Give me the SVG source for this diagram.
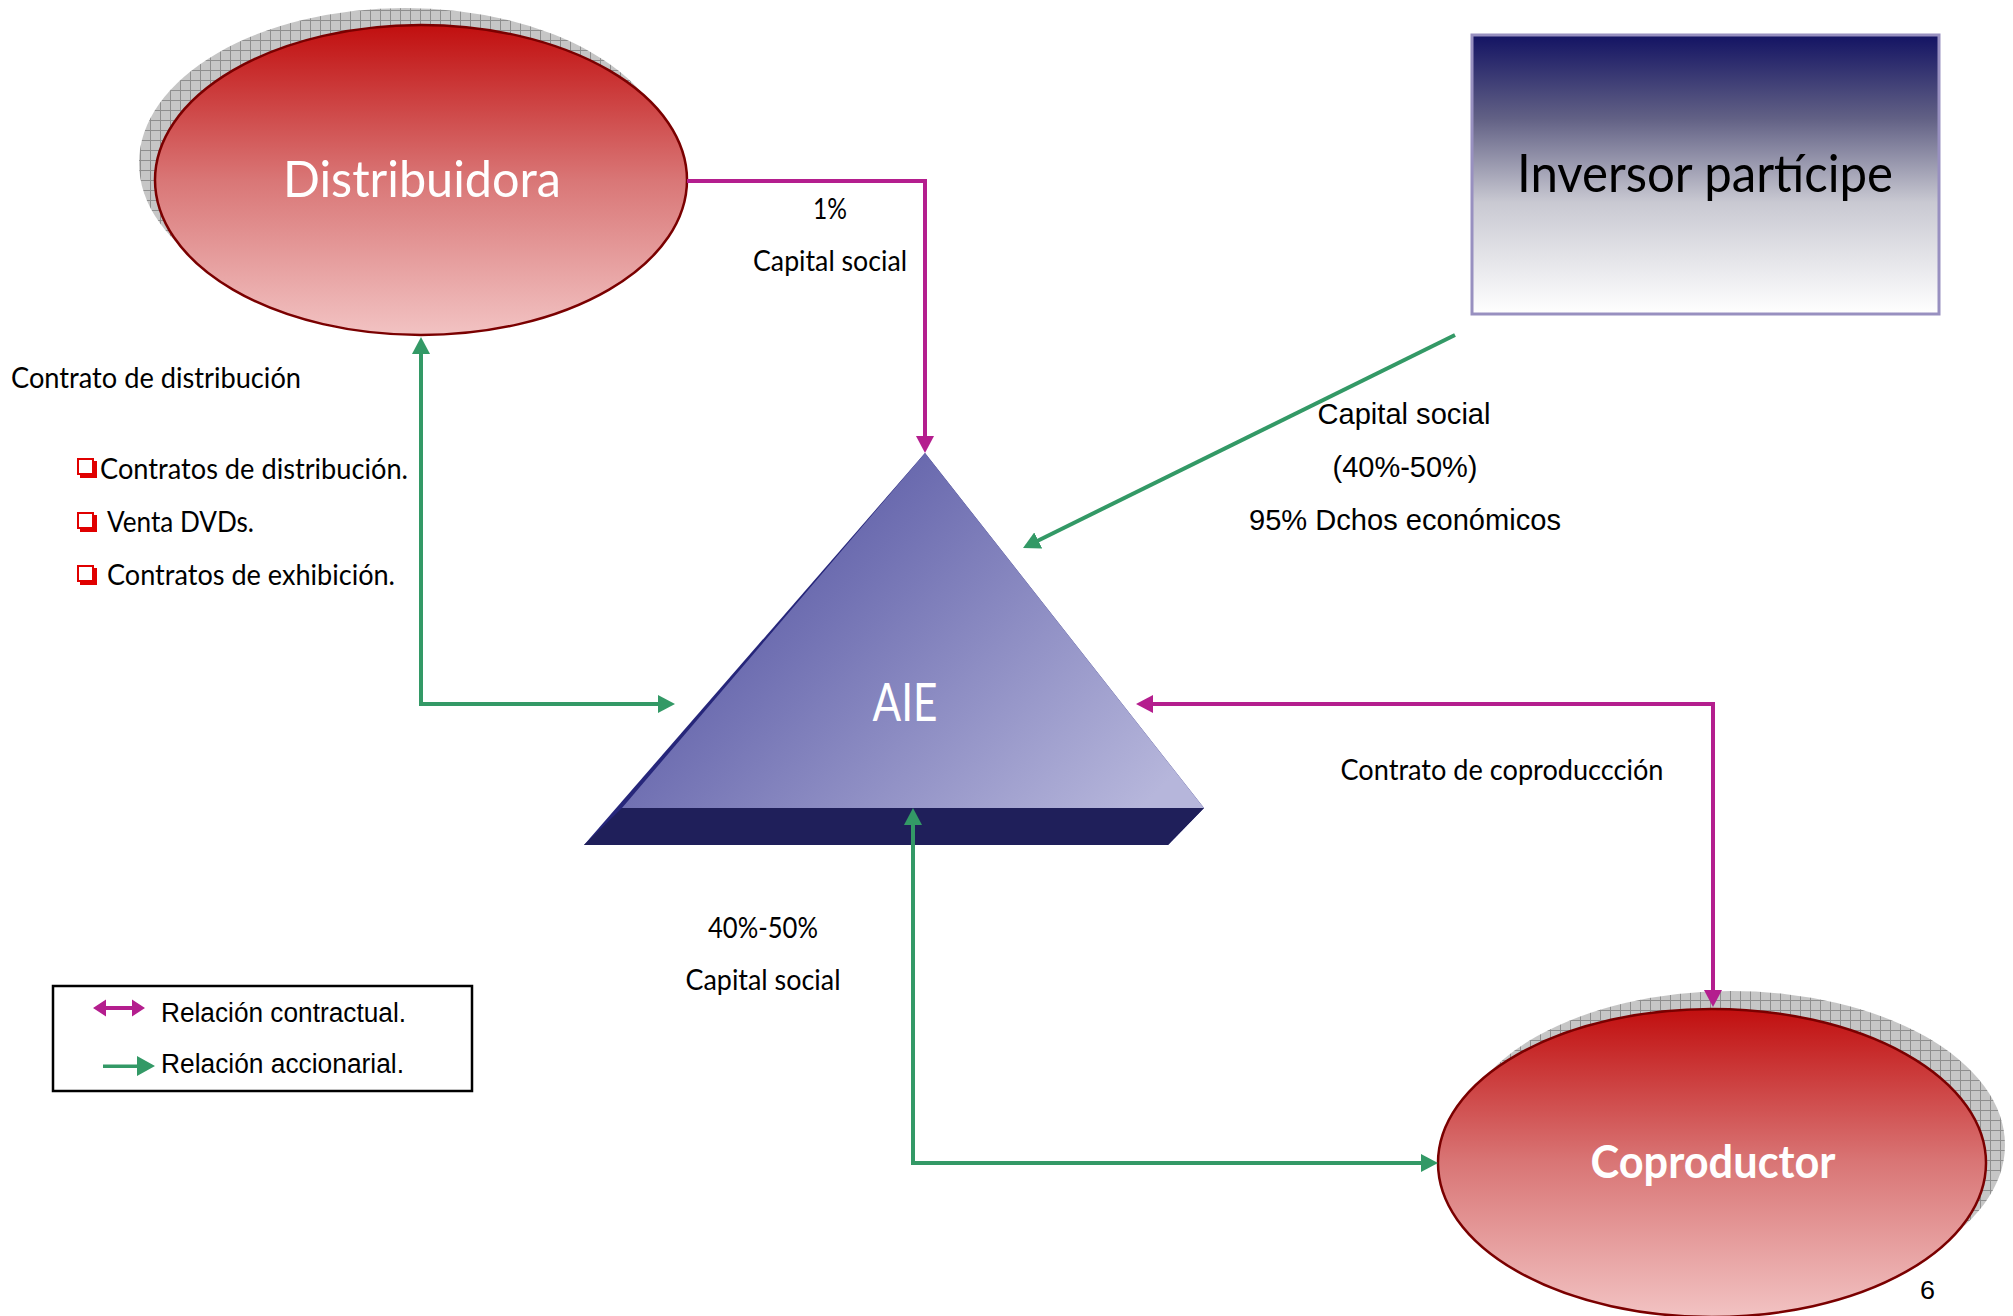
<svg xmlns="http://www.w3.org/2000/svg" width="2013" height="1316" viewBox="0 0 2013 1316">
<style>
.cal{font-family:Lato,"Open Sans","Liberation Sans",sans-serif;fill:#000;}
.ari{font-family:"Liberation Sans",Arial,sans-serif;fill:#000;}
.w{fill:#fff;}
.mag{fill:none;stroke:#b41e8e;stroke-width:4;}
.grn{fill:none;stroke:#339966;stroke-width:4;}
.ell{stroke:#7a0000;stroke-width:2.5;fill:url(#redG);}
.shd{fill:url(#hatch);}
</style>
<defs>
<linearGradient id="redG" x1="0" y1="0" x2="0" y2="1">
<stop offset="0" stop-color="#c10f0f"/>
<stop offset="0.5" stop-color="#d97676"/>
<stop offset="1" stop-color="#f2c3c3"/>
</linearGradient>
<linearGradient id="boxG" x1="0" y1="0" x2="0" y2="1">
<stop offset="0" stop-color="#131363"/>
<stop offset="0.3" stop-color="#626185"/>
<stop offset="0.6" stop-color="#c9c9d2"/>
<stop offset="1" stop-color="#ffffff"/>
</linearGradient>
<linearGradient id="triG" gradientUnits="userSpaceOnUse" x1="760" y1="470" x2="1120" y2="830">
<stop offset="0" stop-color="#5656a3"/>
<stop offset="1" stop-color="#b6b6db"/>
</linearGradient>
<pattern id="hatch" width="10" height="10" patternUnits="userSpaceOnUse">
<rect width="10" height="10" fill="#c6c6c6"/>
<path d="M0,0.5H10M0.5,0V10" stroke="#8e8e8e" stroke-width="1"/>
</pattern>
<marker id="mArr" markerUnits="userSpaceOnUse" markerWidth="18" markerHeight="18" refX="13" refY="9" orient="auto-start-reverse" viewBox="0 0 18 18">
<path d="M0,0L17,9L0,18z" fill="#b41e8e"/>
</marker>
<marker id="gArr" markerUnits="userSpaceOnUse" markerWidth="18" markerHeight="18" refX="13" refY="9" orient="auto-start-reverse" viewBox="0 0 18 18">
<path d="M0,0L17,9L0,18z" fill="#339966"/>
</marker>
<g id="chk">
<rect x="1" y="1" width="15" height="15" fill="#fff" stroke="#e00000" stroke-width="2"/>
<path d="M16,3H20V20H3V16H16z" fill="#e00000"/>
</g>
</defs>

<g id="distribuidora">
<ellipse class="shd" cx="405" cy="163" rx="266" ry="155"/>
<ellipse class="ell" cx="421" cy="180" rx="266" ry="155"/>
<text class="cal w" x="422" y="197" font-size="50" text-anchor="middle" textLength="278" lengthAdjust="spacingAndGlyphs">Distribuidora</text>
</g>

<g id="inversor">
<rect x="1472" y="35" width="467" height="279" fill="url(#boxG)" stroke="#9890c0" stroke-width="3"/>
<text class="cal" x="1705" y="192" font-size="52" text-anchor="middle" textLength="376" lengthAdjust="spacingAndGlyphs">Inversor partícipe</text>
</g>

<g id="aie">
<polygon points="925,453 584,845 1168,845 1204,808" fill="#26267a"/>
<polygon points="622,808 1204,808 1168,845 584,845" fill="#1f1f5a"/>
<polygon points="925,453 622,808 1204,808" fill="url(#triG)"/>
<text class="cal w" x="905" y="721" font-size="52" text-anchor="middle" textLength="65" lengthAdjust="spacingAndGlyphs">AIE</text>
</g>

<g id="coproductor">
<ellipse class="shd" cx="1731" cy="1145" rx="274" ry="154"/>
<ellipse class="ell" cx="1712" cy="1163" rx="274" ry="154"/>
<text class="cal w" x="1713" y="1178" font-size="46" font-weight="bold" text-anchor="middle" textLength="245" lengthAdjust="spacingAndGlyphs">Coproductor</text>
</g>

<g id="connectors">
<path class="mag" d="M687,181H925V449" marker-end="url(#mArr)"/>
<path class="grn" d="M421,341V704H671" marker-start="url(#gArr)" marker-end="url(#gArr)"/>
<path class="grn" d="M1455,335L1026.6,546.2" marker-end="url(#gArr)"/>
<path class="mag" d="M1140,704H1713V1003" marker-start="url(#mArr)" marker-end="url(#mArr)"/>
<path class="grn" d="M913,812V1163H1434" marker-start="url(#gArr)" marker-end="url(#gArr)"/>
</g>

<g id="labels">
<text class="cal" x="830" y="219" font-size="29" text-anchor="middle" textLength="34" lengthAdjust="spacingAndGlyphs">1%</text>
<text class="cal" x="830" y="271" font-size="29" text-anchor="middle" textLength="154" lengthAdjust="spacingAndGlyphs">Capital social</text>
<text class="cal" x="11" y="388" font-size="29" textLength="290" lengthAdjust="spacingAndGlyphs">Contrato de distribución</text>
<use href="#chk" x="77" y="458"/>
<text class="cal" x="100" y="479" font-size="29" textLength="308" lengthAdjust="spacingAndGlyphs">Contratos de distribución.</text>
<use href="#chk" x="77" y="512"/>
<text class="cal" x="107" y="532" font-size="29" textLength="147" lengthAdjust="spacingAndGlyphs">Venta DVDs.</text>
<use href="#chk" x="77" y="565"/>
<text class="cal" x="107" y="585" font-size="29" textLength="288" lengthAdjust="spacingAndGlyphs">Contratos de exhibición.</text>
<text class="ari" x="1404" y="424" font-size="29" text-anchor="middle" textLength="173" lengthAdjust="spacingAndGlyphs">Capital social</text>
<text class="ari" x="1405" y="477" font-size="29" text-anchor="middle" textLength="145" lengthAdjust="spacingAndGlyphs">(40%-50%)</text>
<text class="ari" x="1405" y="530" font-size="29" text-anchor="middle" textLength="312" lengthAdjust="spacingAndGlyphs">95% Dchos económicos</text>
<text class="cal" x="1502" y="780" font-size="29" text-anchor="middle" textLength="323" lengthAdjust="spacingAndGlyphs">Contrato de coproduccción</text>
<text class="cal" x="763" y="938" font-size="29" text-anchor="middle" textLength="110" lengthAdjust="spacingAndGlyphs">40%-50%</text>
<text class="cal" x="763" y="990" font-size="29" text-anchor="middle" textLength="155" lengthAdjust="spacingAndGlyphs">Capital social</text>
<text class="ari" x="1920" y="1299" font-size="25" textLength="15" lengthAdjust="spacingAndGlyphs">6</text>
</g>

<g id="legend">
<rect x="53" y="986" width="419" height="105" fill="#fff" stroke="#000" stroke-width="2.5"/>
<path d="M93,1008L106,999.5V1006H132V999.5L145,1008L132,1016.5V1010H106V1016.5z" fill="#b41e8e"/>
<path d="M103,1064.5H137V1056L155,1066L137,1076V1068H103z" fill="#339966"/>
<text class="ari" x="161" y="1022" font-size="27" textLength="245" lengthAdjust="spacingAndGlyphs">Relación contractual.</text>
<text class="ari" x="161" y="1073" font-size="27" textLength="243" lengthAdjust="spacingAndGlyphs">Relación accionarial.</text>
</g>
</svg>
